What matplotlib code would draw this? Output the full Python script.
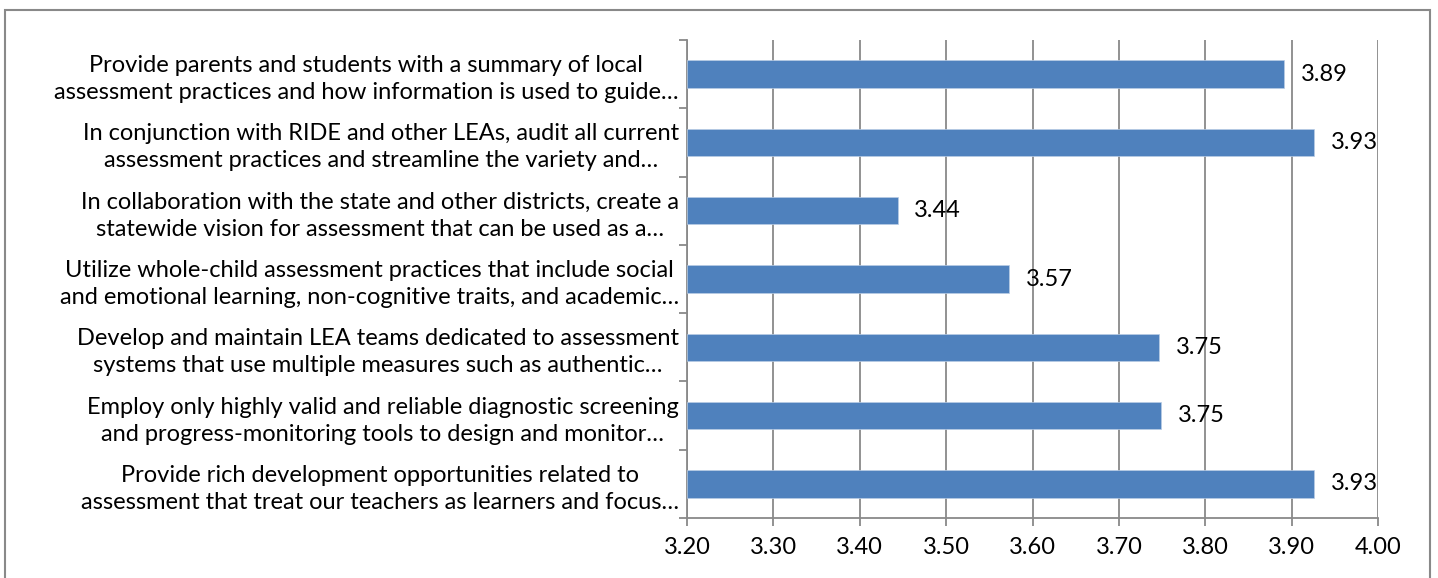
import numpy as np
import matplotlib.pyplot as plt
from matplotlib.patches import Rectangle

labels = [
    "Provide parents and students with a summary of local\nassessment practices and how information is used to guide\u2026",
    "In conjunction with RIDE and other LEAs, audit all current\nassessment practices and streamline the variety and\u2026",
    "In collaboration with the state and other districts, create a\nstatewide vision for assessment that can be used as a\u2026",
    "Utilize whole-child assessment practices that include social\nand emotional learning, non-cognitive traits, and academic\u2026",
    "Develop and maintain LEA teams dedicated to assessment\nsystems that use multiple measures such as authentic\u2026",
    "Employ only highly valid and reliable diagnostic screening\nand progress-monitoring tools to design and monitor\u2026",
    "Provide rich development opportunities related to\nassessment that treat our teachers as learners and focus\u2026",
]
values = [3.891, 3.926, 3.444, 3.573, 3.747, 3.749, 3.926]
xticks = [3.2, 3.3, 3.4, 3.5, 3.6, 3.7, 3.8, 3.9, 4.0]

plt.rcParams['font.family'] = ['Lato', 'DejaVu Sans']
fs = 17
grey = '#898989'

fig = plt.figure(figsize=(14.38, 5.78), dpi=100)
ax = fig.add_axes([687/1438, 1-518/578, (1378-687)/1438, (518-40)/578])

y = np.arange(len(labels))
ax.barh(y, np.array(values) - 3.2, left=3.2, height=0.4, color='#4F81BD',
        edgecolor='#B9CDE5', linewidth=0.5, zorder=3)
for yi, v in zip(y, values):
    ax.annotate("%.2f" % v, (v, yi), xytext=(12, 0), textcoords='offset points',
                va='center', ha='left', fontsize=fs, zorder=4)

ax.set_xlim(3.2, 4.0)
ax.set_ylim(len(labels) - 0.5, -0.5)
ax.set_xticks(xticks)
ax.set_xticklabels(["%.2f" % t for t in xticks], fontsize=fs)
ax.grid(axis='x', color=grey, linewidth=1.3, zorder=0)

ax.set_yticks(np.arange(len(labels) + 1) - 0.5)
ax.set_yticklabels([])
ax.set_yticks(y, minor=True)
ax.set_yticklabels(labels, minor=True, fontsize=fs, multialignment='center',
                   linespacing=1.35)
ax.tick_params(axis='y', which='minor', length=0, pad=6)
ax.tick_params(axis='y', which='major', length=6, color=grey, width=1.3)
ax.tick_params(axis='x', length=6, color=grey, width=1.3, pad=8)

for s in ['top', 'right']:
    ax.spines[s].set_visible(False)
for s in ['left', 'bottom']:
    ax.spines[s].set_color(grey)
    ax.spines[s].set_linewidth(1.3)

fig.patches.append(Rectangle((5/1438, -0.1), 1425/1438, 1.1 - 10/578,
                             transform=fig.transFigure, fill=False,
                             edgecolor=grey, linewidth=1.5, clip_on=False))

fig.savefig('out.png', dpi=100)
